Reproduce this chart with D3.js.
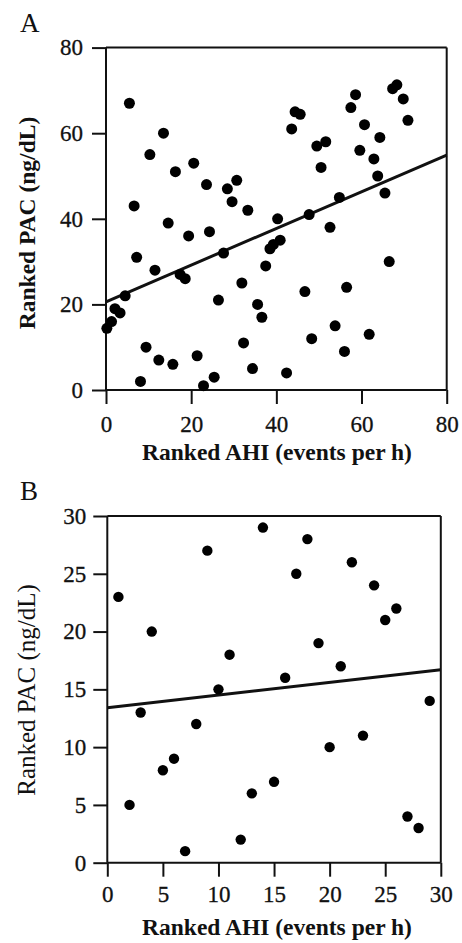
<!DOCTYPE html>
<html>
<head>
<meta charset="utf-8">
<script src="https://cdn.jsdelivr.net/npm/d3@7"></script>
<style>
  html, body { margin: 0; padding: 0; background: #fff; }
  svg { display: block; }
</style>
</head>
<body>
<script>
// ---------- Data: Panel A ----------
const aAHI = [5.5,13.5,10.3,16.3,20.6,23.6,28.5,30.7,29.6,33.3,6.6,14.6,19.4,24.3,40.3,
  43.6,44.4,45.6,58.6,57.5,68.3,67.3,69.8,70.9,60.7,64.3,49.5,51.6,59.6,62.9,50.5,63.8,65.5,54.8,
  47.7,52.6,38.5,39.3,40.9,7.2,11.5,27.6,17.4,18.6,4.5,37.5,31.9,26.4,35.6,36.6,2.1,3.3,1.3,0.2,
  9.4,12.4,15.7,21.4,32.3,34.4,8.1,22.9,25.4,66.5,46.7,56.5,53.8,48.3,61.8,56.0,42.4];
const aPAC = [67,60,55,51,53,48,47,49,44,42,43,39,36,37,40,
  61,65,64.4,69,66,71.3,70.4,68,63,62,59,57,58,56,54,52,50,46,45,
  41,38,33,34,35,31,28,32,27,26,22,29,25,21,20,17,19,18,16,14.4,
  10,7,6,8,11,5,2,1,3,30,23,24,15,12,13,9,4];
const aFitAHI = [0, 80];
const aFitPAC = [20.6, 54.9];
const aXTicks = [0, 20, 40, 60, 80];
const aYTicks = [0, 20, 40, 60, 80];

// ---------- Data: Panel B ----------
const bAHI = [1,2,3,4,5,6,7,8,9,10,11,12,13,14,15,16,17,18,19,20,21,22,23,24,25,26,27,28,29];
const bPAC = [23,5,13,20,8,9,1,12,27,15,18,2,6,29,7,16,25,28,19,10,17,26,11,24,21,22,4,3,14];
const bFitAHI = [0, 30];
const bFitPAC = [13.4, 16.7];
const bXTicks = [0, 5, 10, 15, 20, 25, 30];
const bYTicks = [0, 5, 10, 15, 20, 25, 30];

const xTitle = "Ranked AHI (events per h)";
const yTitle = "Ranked PAC (ng/dL)";

const FONT = "'Liberation Serif', 'Times New Roman', Tinos, serif";
const W = 462, H = 943;
const svg = d3.select("body").append("svg").attr("width", W).attr("height", H);

function panel(opts) {
  const x = d3.scaleLinear().domain(opts.xDomain).range(opts.xRange);
  const y = d3.scaleLinear().domain(opts.yDomain).range(opts.yRange);
  const g = svg.append("g");

  // frame: top and right
  g.append("line").attr("x1", x.range()[0]).attr("x2", x.range()[1])
    .attr("y1", y.range()[1]).attr("y2", y.range()[1])
    .attr("stroke", "#111").attr("stroke-width", 2);
  g.append("line").attr("x1", x.range()[1]).attr("x2", x.range()[1])
    .attr("y1", y.range()[0]).attr("y2", y.range()[1])
    .attr("stroke", "#111").attr("stroke-width", 2);

  const xAxis = d3.axisBottom(x).tickValues(opts.xTicks).tickSize(14).tickSizeOuter(0)
    .tickPadding(opts.xPad).tickFormat(d3.format("d"));
  const yAxis = d3.axisLeft(y).tickValues(opts.yTicks).tickSize(14).tickSizeOuter(0)
    .tickPadding(opts.yPad).tickFormat(d3.format("d"));

  const gx = g.append("g").attr("transform", `translate(0,${y.range()[0]})`).call(xAxis);
  const gy = g.append("g").attr("transform", `translate(${x.range()[0]},0)`).call(yAxis);
  [gx, gy].forEach(a => {
    a.attr("font-family", null).attr("font-size", null);
    a.selectAll("path, line").attr("stroke", "#111").attr("stroke-width", 2);
    a.selectAll("text").style("font-family", FONT)
      .style("font-size", "23px").attr("fill", "#111")
      .attr("stroke", "#111").attr("stroke-width", 0.3);
  });
  gx.select("path").attr("d", `M${x.range()[0]},0H${x.range()[1]}`);
  gy.select("path").attr("d", `M0,${y.range()[0]}V${y.range()[1]}`);

  // regression line
  g.append("line")
    .attr("x1", x(opts.fitX[0])).attr("y1", y(opts.fitY[0]))
    .attr("x2", x(opts.fitX[1])).attr("y2", y(opts.fitY[1]))
    .attr("stroke", "#111").attr("stroke-width", 3);

  // points
  g.selectAll("circle.pt").data(opts.xs.map((v, i) => [v, opts.ys[i]]))
    .join("circle").attr("class", "pt")
    .attr("cx", d => x(d[0])).attr("cy", d => y(d[1]))
    .attr("r", opts.r).attr("fill", "#000");

  // titles
  g.append("text").attr("x", opts.xTitleX).attr("y", opts.xTitleY)
    .attr("text-anchor", "middle").attr("fill", "#111")
    .style("font-family", FONT).style("font-size", "23.5px").style("font-weight", "bold")
    .text(xTitle);
  g.append("text")
    .attr("transform", `translate(${opts.yTitleX},${opts.yTitleY}) rotate(-90)`)
    .attr("text-anchor", "middle").attr("fill", "#111")
    .style("font-family", FONT).style("font-size", opts.yTitleSize).style("font-weight", opts.yTitleWeight)
    .text(yTitle);
  g.append("text").attr("x", 20).attr("y", opts.letterY).attr("fill", "#111")
    .style("font-family", FONT).style("font-size", "27px").text(opts.letter);
}

panel({
  xDomain: [0, 80], xRange: [106, 446.7],
  yDomain: [0, 80], yRange: [390, 47.6],
  xTicks: aXTicks, yTicks: aYTicks, xPad: 12, yPad: 9,
  fitX: aFitAHI, fitY: aFitPAC, xs: aAHI, ys: aPAC, r: 5.5,
  xTitleX: 277, xTitleY: 460, yTitleX: 35, yTitleY: 223, yTitleWeight: "bold", yTitleSize: "23.5px",
  letter: "A", letterY: 32
});

panel({
  xDomain: [0, 30], xRange: [107.3, 440.8],
  yDomain: [0, 30], yRange: [862.7, 516],
  xTicks: bXTicks, yTicks: bYTicks, xPad: 9, yPad: 7,
  fitX: bFitAHI, fitY: bFitPAC, xs: bAHI, ys: bPAC, r: 5.2,
  xTitleX: 277, xTitleY: 935, yTitleX: 35, yTitleY: 690, yTitleWeight: "normal", yTitleSize: "25px",
  letter: "B", letterY: 500
});
</script>
</body>
</html>
